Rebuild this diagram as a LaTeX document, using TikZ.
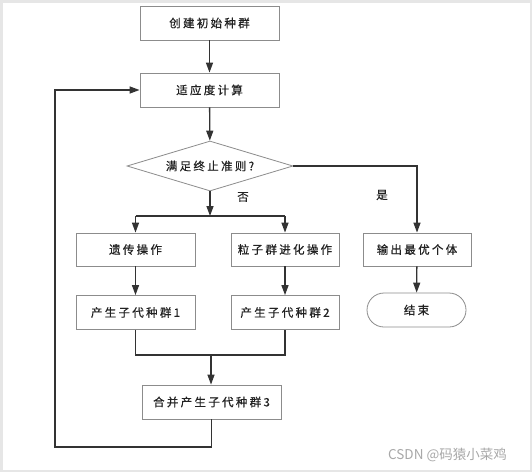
\documentclass[tikz,border=0pt]{standalone}
\usepackage{fontspec}
\usetikzlibrary{shapes.geometric,arrows.meta}
\newfontfamily\cjk[LetterSpace=20,FakeBold=0.6]{Noto Sans CJK SC}
\newfontfamily\wmfont{Noto Sans CJK SC}
\definecolor{boxline}{HTML}{8C8C8C}
\definecolor{conn}{HTML}{333333}
\definecolor{frame}{HTML}{E6E6E6}
\definecolor{wm}{HTML}{A8A8A8}
\definecolor{txt}{HTML}{222222}
\tikzset{
  base/.style={draw=boxline, line width=0.8pt, inner sep=0pt, text=txt, font=\cjk\fontsize{11.5pt}{13pt}\selectfont},
  procbox/.style={base, rectangle},
  decbox/.style={base, diamond, shape aspect=3.32},
  termbox/.style={base, rectangle, rounded corners=17pt},
  line/.style={draw=conn, line width=1.3pt},
  arr/.style={line, -{Triangle[length=10pt,width=7pt]}},
  lbl/.style={text=txt, font=\cjk\fontsize{11.5pt}{13pt}\selectfont, inner sep=0pt},
}
\begin{document}
\begin{tikzpicture}[x=1pt,y=-1pt]
\fill[frame] (0,0) rectangle (532,472);
\fill[white] (2.5,2.5) rectangle (529.5,469.5);
\useasboundingbox (0,0) rectangle (532,472);

\node[procbox, minimum width=139pt, minimum height=34pt] (init) at (209.5,23) {创建初始种群};
\node[procbox, minimum width=139pt, minimum height=34pt] (fit) at (209.5,90) {适应度计算};
\node[decbox, minimum width=166pt, minimum height=50pt] (dec) at (210,166) {满足终止准则?};
\node[procbox, minimum width=119pt, minimum height=33pt] (ga) at (135.5,249.5) {遗传操作};
\node[procbox, minimum width=108pt, minimum height=33pt] (pso) at (285,249.5) {粒子群进化操作};
\node[procbox, minimum width=108pt, minimum height=33pt] (out) at (417,249.5) {输出最优个体};
\node[procbox, minimum width=119pt, minimum height=34pt] (pop1) at (135.5,312.5) {产生子代种群1};
\node[procbox, minimum width=108pt, minimum height=34pt] (pop2) at (285,312.5) {产生子代种群2};
\node[termbox, minimum width=99pt, minimum height=34pt] (end) at (416.5,310) {结束};
\node[procbox, minimum width=139pt, minimum height=34pt] (pop3) at (211.5,402) {合并产生子代种群3};

\node[lbl] (no) at (243,197) {否};
\node[lbl] (yes) at (382,195) {是};
\node[text=wm, font=\wmfont\fontsize{13.5pt}{15pt}\selectfont, inner sep=0pt, anchor=east] (wmk) at (507,455) {CSDN @码猿小菜鸡};

\coordinate (j1) at (210,216);
\coordinate (j2) at (211,355);
\coordinate (j3) at (417,166);
\coordinate (l1) at (55,447);

\draw[arr] (init) -- (fit);
\draw[arr] (fit) -- (dec);
\draw[arr] (dec.south) -- (dec.south |- j1);
\draw[line] (ga.north |- j1) -- (pso.north |- j1);
\draw[arr] (ga.north |- j1) -- (ga.north);
\draw[arr] (pso.north |- j1) -- (pso.north);
\draw[arr] (dec.east) -- (j3) -- (out.north);
\draw[arr] (out) -- (end);
\draw[arr] (ga) -- (pop1);
\draw[arr] (pso) -- (pop2);
\draw[line] (pop1.south) -- (pop1.south |- j2) -- (pop2.south |- j2) -- (pop2.south);
\draw[arr] (j2) -- (j2 |- pop3.north);
\draw[arr] (pop3.south) -- (pop3.south |- l1) -- (l1) |- (fit.west);
\end{tikzpicture}
\end{document}
